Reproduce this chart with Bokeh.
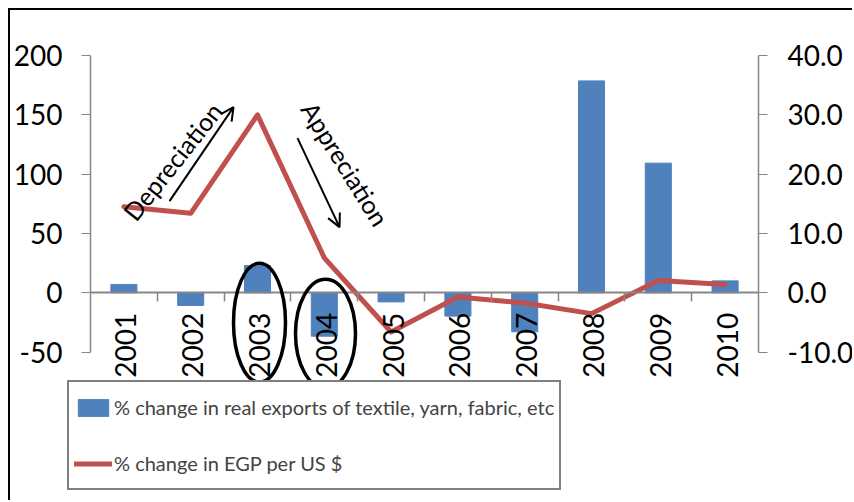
import math
from bokeh.plotting import figure
from bokeh.models import (Range1d, LinearAxis, FixedTicker, PrintfTickFormatter,
                          Legend, LegendItem, Label, Arrow, OpenHead)
from bokeh.core.properties import value
from bokeh.embed import file_html
from bokeh.resources import INLINE

# ---- data ----
years = [2001, 2002, 2003, 2004, 2005, 2006, 2007, 2008, 2009, 2010]
year_labels = ["2001", "2002", "2003", "2004", "2005", "2006", "2007", "2008", "2009", "2010"]
exports_change = [7.1, -10.6, 23.0, -36.5, -7.6, -19.6, -32.8, 178.6, 109.3, 10.1]
egp_change = [14.5, 13.4, 30.0, 5.9, -6.6, -0.7, -1.7, -3.5, 2.1, 1.4]
left_ticks = [-50, 0, 50, 100, 150, 200]
right_ticks = [-10, 0, 10, 20, 30, 40]
bar_label = "% change in real exports of textile, yarn, fabric, etc"
line_label = "% change in EGP per US $"

FONT = "Lato"
AXIS_GRAY = "#868686"

# the frame covers the whole canvas; axes are pinned with fixed_location
p = figure(width=844, height=492,
           min_border_left=0, min_border_right=0, min_border_top=0, min_border_bottom=0,
           output_backend="svg", toolbar_location=None,
           x_range=Range1d(1999.3024, 2011.9371), y_range=Range1d(-176.64, 237.917),
           x_axis_type=None)
p.styles = {"margin-left": "8px", "margin-top": "8px",
            "border-left": "2px solid black", "border-top": "2px solid black"}
p.xgrid.visible = False
p.ygrid.visible = False
p.outline_line_color = None
p.background_fill_color = "white"
p.border_fill_color = "white"

# left axis
ya = p.yaxis[0]
ya.fixed_location = 2000.5
ya.ticker = FixedTicker(ticks=left_ticks)
ya.formatter = PrintfTickFormatter(format="%d")
ya.bounds = (-50, 200)
ya.axis_line_color = AXIS_GRAY
ya.axis_line_width = 1.5
ya.major_tick_line_color = AXIS_GRAY
ya.major_tick_out = 9
ya.major_tick_in = 0
ya.minor_tick_line_color = None
ya.major_label_standoff = 19
ya.major_label_text_font = FONT
ya.major_label_text_font_size = "28px"
ya.major_label_text_color = "black"

# right axis
p.extra_y_ranges = {"egp": Range1d(-35.328, 47.583)}
ra = LinearAxis(y_range_name="egp", ticker=FixedTicker(ticks=right_ticks),
                formatter=PrintfTickFormatter(format="%.1f"), bounds=(-10, 40),
                fixed_location=2010.5)
ra.axis_line_color = AXIS_GRAY
ra.axis_line_width = 1.5
ra.major_tick_line_color = AXIS_GRAY
ra.major_tick_out = 9
ra.major_tick_in = 0
ra.minor_tick_line_color = None
ra.major_label_standoff = 20
ra.major_label_text_font = FONT
ra.major_label_text_font_size = "28px"
ra.major_label_text_color = "black"
p.add_layout(ra, "right")

# category axis line at y = 0 with boundary ticks (minor ticks, pointing down)
boundaries = [y + 0.5 for y in years[:-1]]
xa = LinearAxis(ticker=FixedTicker(ticks=[], minor_ticks=boundaries), fixed_location=0,
                bounds=(2000.5, 2010.5))
xa.axis_line_color = AXIS_GRAY
xa.axis_line_width = 2
xa.major_tick_line_color = None
xa.minor_tick_line_color = AXIS_GRAY
xa.minor_tick_line_width = 1.5
xa.minor_tick_in = 9
xa.minor_tick_out = 0
p.add_layout(xa, "above")

# marks
bars = p.vbar(x=years, top=exports_change, bottom=0, width=0.39,
              fill_color="#4F81BD", line_color="#4F81BD")
line = p.line(years, egp_change, y_range_name="egp", line_width=5,
              line_color="#C0504D", line_cap="round", line_join="round")

# category labels, hanging below the zero line
p.text(x=years, y=[0 for _ in years], text=year_labels, angle=math.pi / 2,
       text_align="right", text_baseline="middle", y_offset=20, x_offset=2,
       text_font=value(FONT), text_font_size=value("28px"), text_color="black")

# circled years
p.ellipse(x=[2003.03, 2004.018], y=[-25.1, -34.4], width=[52, 60], height=[119, 109],
          width_units="screen", height_units="screen",
          fill_color=None, line_color="black", line_width=3.5, level="overlay")

# annotations
p.add_layout(Label(x=2001.069, y=64.0, text="Depreciation", angle=0.902,
                   text_font=FONT, text_font_size="25px", text_baseline="alphabetic",
                   text_color="black"))
p.add_layout(Label(x=2003.76, y=159.0, text="Appreciation", angle=-1.012,
                   text_font=FONT, text_font_size="25px", text_baseline="alphabetic",
                   text_color="black"))
p.add_layout(Arrow(x_start=2001.683, y_start=77.3, x_end=2002.641, y_end=156.5,
                   line_width=2, line_color="black",
                   end=OpenHead(size=13, line_width=2, line_color="black")))
p.add_layout(Arrow(x_start=2003.599, y_start=130.4, x_end=2004.228, y_end=55.4,
                   line_width=2, line_color="black",
                   end=OpenHead(size=13, line_width=2, line_color="black")))

# legend
legend = Legend(items=[LegendItem(label=bar_label, renderers=[bars]),
                       LegendItem(label=line_label, renderers=[line])],
                location=(57, 12), margin=0, padding=5, spacing=16,
                glyph_width=38, glyph_height=21, label_height=40, label_standoff=2,
                label_text_font=FONT, label_text_font_size="20px",
                border_line_color="black", border_line_width=2,
                background_fill_color="white", background_fill_alpha=1.0)
p.add_layout(legend, "center")

open("out.html", "w").write(file_html(p, INLINE))
